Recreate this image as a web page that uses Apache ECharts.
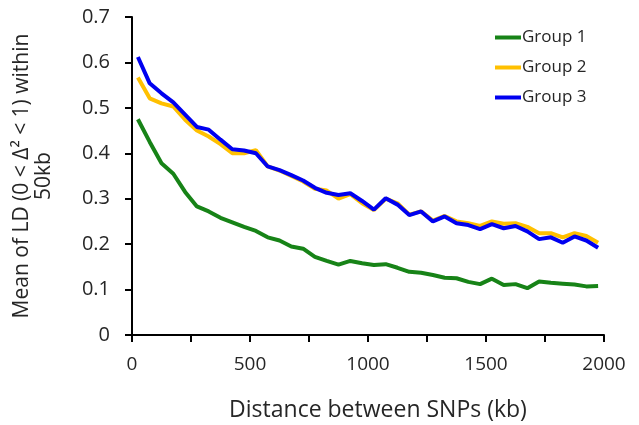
<!DOCTYPE html>
<html>
<head>
<meta charset="utf-8">
<script src="https://cdn.jsdelivr.net/npm/echarts@6/dist/echarts.min.js"></script>
<style>
  html, body { margin: 0; padding: 0; background: #fff; }
  #chart { width: 639px; height: 425px; }
</style>
</head>
<body>
<div id="chart"></div>
<script>
// distance between SNPs (kb), bin centres
var distances = [25, 75, 125, 175, 225, 275, 325, 375, 425, 475,
  525, 575, 625, 675, 725, 775, 825, 875, 925, 975,
  1025, 1075, 1125, 1175, 1225, 1275, 1325, 1375, 1425, 1475,
  1525, 1575, 1625, 1675, 1725, 1775, 1825, 1875, 1925, 1975];

// mean LD per group
var group1 = [0.475, 0.425, 0.378, 0.355, 0.315, 0.283, 0.272, 0.258, 0.248, 0.238,
  0.229, 0.215, 0.208, 0.195, 0.190, 0.172, 0.163, 0.155, 0.163, 0.158,
  0.154, 0.156, 0.148, 0.139, 0.137, 0.132, 0.126, 0.125, 0.117, 0.112,
  0.124, 0.110, 0.112, 0.103, 0.118, 0.115, 0.113, 0.111, 0.107, 0.108];
var group2 = [0.567, 0.521, 0.510, 0.503, 0.474, 0.450, 0.437, 0.420, 0.400, 0.400,
  0.407, 0.371, 0.362, 0.350, 0.338, 0.322, 0.318, 0.300, 0.310, 0.290,
  0.275, 0.300, 0.290, 0.265, 0.272, 0.252, 0.262, 0.250, 0.246, 0.240,
  0.250, 0.245, 0.246, 0.238, 0.224, 0.224, 0.215, 0.224, 0.218, 0.203];
var group3 = [0.612, 0.554, 0.532, 0.512, 0.485, 0.458, 0.452, 0.430, 0.409, 0.406,
  0.400, 0.371, 0.363, 0.352, 0.340, 0.324, 0.313, 0.308, 0.312, 0.295,
  0.276, 0.301, 0.287, 0.264, 0.272, 0.250, 0.261, 0.246, 0.242, 0.233,
  0.244, 0.235, 0.240, 0.228, 0.211, 0.215, 0.203, 0.217, 0.208, 0.192];

var seriesNames = ['Group 1', 'Group 2', 'Group 3'];
var xLabels = [0, 500, 1000, 1500, 2000];

function pairs(vals) {
  return distances.map(function(d, i) { return [d, vals[i]]; });
}

var chart = echarts.init(document.getElementById('chart'));
var font = '"Open Sans", sans-serif';
var txt = '#262626';

var option = {
  animation: false,
  backgroundColor: '#fff',
  textStyle: { fontFamily: font, color: txt },
  grid: { left: 132, right: 35, top: 17, bottom: 90, outerBoundsMode: 'none' },
  legend: {
    data: seriesNames,
    orient: 'vertical',
    left: 490,
    top: 24,
    icon: 'rect',
    itemWidth: 26,
    itemHeight: 4,
    itemGap: 13,
    textStyle: { fontFamily: font, fontSize: 17, color: txt, padding: [0, 0, 0, -4] }
  },
  xAxis: {
    type: 'value',
    min: 0,
    max: 2000,
    interval: 250,
    name: 'Distance between SNPs (kb)',
    nameLocation: 'middle',
    nameGap: 64,
    nameTextStyle: { fontFamily: font, fontSize: 23, color: txt, padding: [0, 0, 0, 20] },
    axisLine: { show: true, lineStyle: { color: '#000', width: 2 } },
    axisTick: { show: true, length: 7, lineStyle: { color: '#000', width: 2 } },
    splitLine: { show: false },
    axisLabel: {
      margin: 20,
      fontFamily: font,
      fontSize: 19,
      color: txt,
      formatter: function(v) {
        return xLabels.indexOf(v) >= 0 ? String(v) : '';
      }
    }
  },
  yAxis: {
    type: 'value',
    min: 0,
    max: 0.7,
    interval: 0.1,
    name: 'Mean of LD (0 < Δ² < 1) within\n50kb',
    nameLocation: 'middle',
    nameRotate: 90,
    nameGap: 77,
    nameTextStyle: { fontFamily: font, fontSize: 21, color: txt, lineHeight: 22 },
    axisLine: { show: true, lineStyle: { color: '#000', width: 2 } },
    axisTick: { show: true, length: 7, lineStyle: { color: '#000', width: 2 } },
    splitLine: { show: false },
    axisLabel: {
      margin: 22,
      fontFamily: font,
      fontSize: 20,
      color: txt,
      formatter: function(v) {
        return v === 0 ? '0' : v.toFixed(1);
      }
    }
  },
  series: [
    { name: 'Group 1', type: 'line', data: pairs(group1), showSymbol: false,
      color: '#178317', lineStyle: { width: 4, color: '#178317' } },
    { name: 'Group 2', type: 'line', data: pairs(group2), showSymbol: false,
      color: '#FFC000', lineStyle: { width: 4, color: '#FFC000' } },
    { name: 'Group 3', type: 'line', data: pairs(group3), showSymbol: false,
      color: '#0000F0', lineStyle: { width: 4, color: '#0000F0' } }
  ]
};

chart.setOption(option);
</script>
</body>
</html>
